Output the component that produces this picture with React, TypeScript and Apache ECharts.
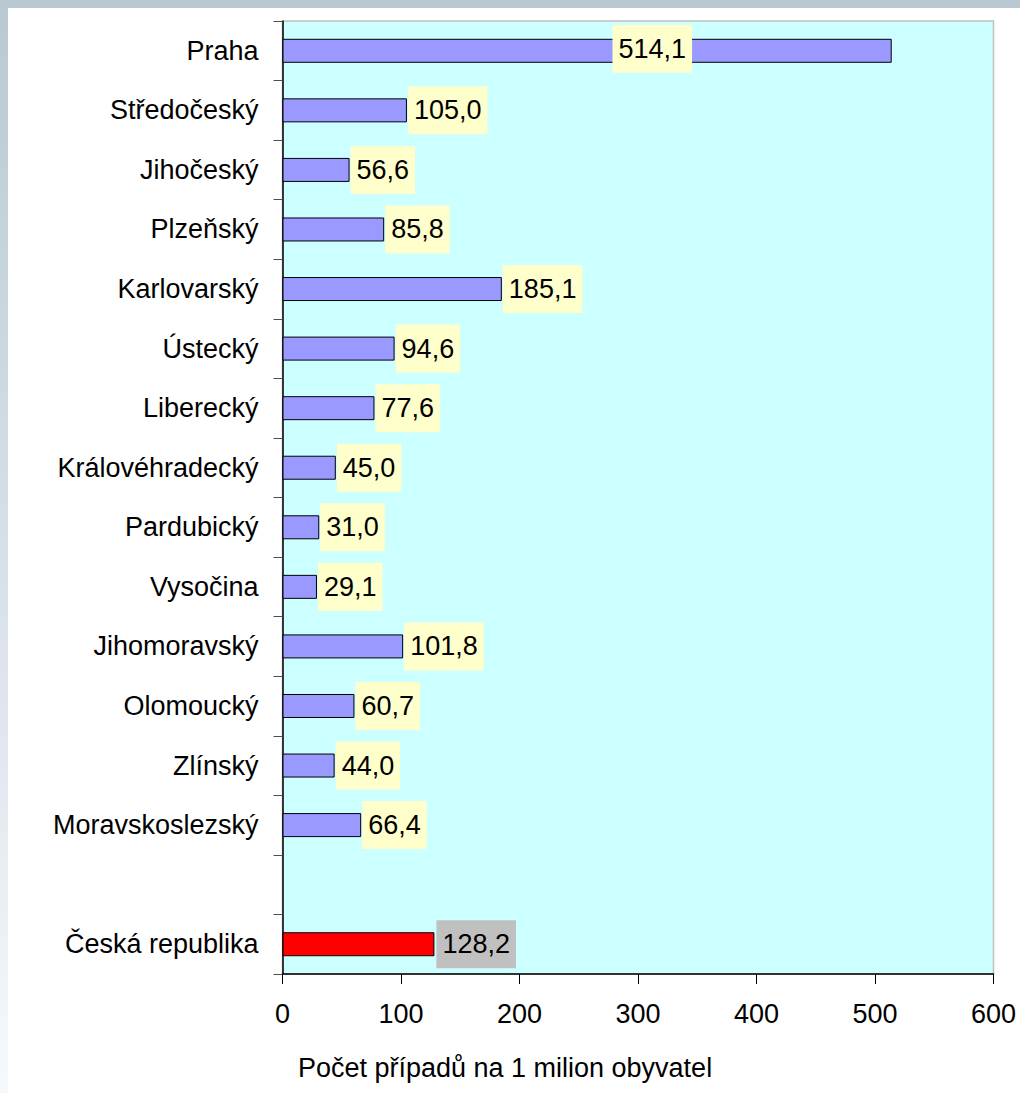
import React, { useEffect, useRef } from "react";
import * as echarts from "echarts";

const categories: string[] = [
  "Praha",
  "Středočeský",
  "Jihočeský",
  "Plzeňský",
  "Karlovarský",
  "Ústecký",
  "Liberecký",
  "Královéhradecký",
  "Pardubický",
  "Vysočina",
  "Jihomoravský",
  "Olomoucký",
  "Zlínský",
  "Moravskoslezský",
  " ",
  "Česká republika",
];

const values: (number | null)[] = [
  514.1, 105.0, 56.6, 85.8, 185.1, 94.6, 77.6, 45.0, 31.0, 29.1, 101.8, 60.7, 44.0, 66.4, null, 128.2,
];

const xTicks = { min: 0, max: 600, interval: 100 };
const axisTitle = "Počet případů na 1 milion obyvatel";
const totalName = "Česká republika";
const highlightInsideName = "Praha";

const FONT = "'Liberation Sans', Arial, sans-serif";

export default function App() {
  const ref = useRef<HTMLDivElement>(null);

  useEffect(() => {
    if (!ref.current) return;
    const chart = echarts.init(ref.current, undefined, { renderer: "svg" });

    const data = categories.map((c, i) => {
      const v = values[i];
      if (c === totalName) {
        return {
          value: v,
          itemStyle: { color: "#ff0000" },
          label: { backgroundColor: "#c0c0c0", distance: 2 },
        };
      }
      if (c === highlightInsideName) {
        return {
          value: v,
          label: { position: [330, -14] as any },
        };
      }
      return { value: v };
    });

    chart.setOption({
      animation: false,
      backgroundColor: "#ffffff",
      grid: {
        left: 282.5,
        right: 26.5,
        top: 21,
        bottom: 119,
        show: true,
        backgroundColor: "#ccffff",
        borderColor: "#c0c0c0",
        borderWidth: 1.5,
      },
      xAxis: {
        type: "value",
        min: xTicks.min,
        max: xTicks.max,
        interval: xTicks.interval,
        splitLine: { show: false },
        axisLine: { show: true, lineStyle: { color: "#000000", width: 1.5 } },
        axisTick: { show: true, length: 10, lineStyle: { color: "#000000" } },
        axisLabel: {
          margin: 26,
          fontSize: 27,
          fontFamily: FONT,
          color: "#000000",
        },
      },
      yAxis: {
        type: "category",
        inverse: true,
        data: categories,
        axisLine: { show: true, lineStyle: { color: "#000000", width: 1.5 } },
        axisTick: { show: true, length: 9, lineStyle: { color: "#505050" } },
        axisLabel: {
          margin: 24,
          fontSize: 27,
          fontFamily: FONT,
          color: "#000000",
        },
      },
      series: [
        {
          type: "bar",
          data,
          barWidth: 24,
          itemStyle: { color: "#9999ff", borderColor: "#000000", borderWidth: 1 },
          label: {
            show: true,
            position: "right",
            distance: 1,
            formatter: (p: any) => (p.value == null ? "" : Number(p.value).toFixed(1).replace(".", ",")),
            fontSize: 27,
            fontFamily: FONT,
            color: "#000000",
            backgroundColor: "#ffffcc",
            padding: [8, 6, 8, 6],
            lineHeight: 32,
          },
        },
      ],
      graphic: [
        {
          type: "rect",
          shape: { x: 0, y: 0, width: 1020, height: 8 },
          style: { fill: "#b9c9d2" },
          silent: true,
        },
        {
          type: "rect",
          shape: { x: 0, y: 0, width: 8, height: 1093 },
          style: {
            fill: new echarts.graphic.LinearGradient(0, 0, 0, 1, [
              { offset: 0, color: "#b9c9d2" },
              { offset: 0.3, color: "#cad7de" },
              { offset: 0.7, color: "#e3e8f0" },
              { offset: 1, color: "#f6f9fc" },
            ]),
          },
          silent: true,
        },
        {
          type: "text",
          x: 505,
          y: 1068,
          style: {
            text: axisTitle,
            fontSize: 27,
            fontFamily: FONT,
            fill: "#000000",
            textAlign: "center",
            textVerticalAlign: "middle",
          },
          silent: true,
        },
      ],
    });

    return () => chart.dispose();
  }, []);

  return (
    <div
      ref={ref}
      style={{ position: "fixed", left: 0, top: 0, width: 1020, height: 1093 }}
    />
  );
}
